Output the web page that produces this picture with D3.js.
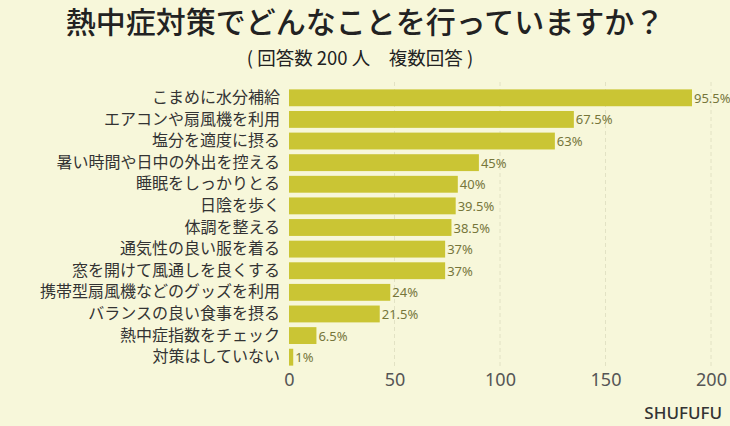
<!DOCTYPE html>
<html><head><meta charset="utf-8">
<script src="https://cdn.jsdelivr.net/npm/d3@7"></script>
<style>body{margin:0;background:#f7f7da;font-family:"Noto Sans CJK JP",sans-serif}</style>
</head><body>
<script>
const categories = ["こまめに水分補給","エアコンや扇風機を利用","塩分を適度に摂る","暑い時間や日中の外出を控える","睡眠をしっかりとる","日陰を歩く","体調を整える","通気性の良い服を着る","窓を開けて風通しを良くする","携帯型扇風機などのグッズを利用","バランスの良い食事を摂る","熱中症指数をチェック","対策はしていない"];
const percents = [95.5,67.5,63,45,40,39.5,38.5,37,37,24,21.5,6.5,1];
const total = 200;
const xTicks = [0,50,100,150,200];

const W = 730, H = 426;
const svg = d3.select("body").append("svg").attr("width", W).attr("height", H);
svg.append("rect").attr("width", W).attr("height", H).attr("fill", "#f7f7da");

const x = d3.scaleLinear().domain([0, 200]).range([289, 711]);
const y = d3.scaleBand().domain(categories).range([87, 368]).paddingInner(0.22).paddingOuter(0.11);

svg.append("text").attr("x", 365).attr("y", 33).attr("text-anchor", "middle")
  .attr("font-size", 30).attr("font-weight", 500).attr("fill", "#222").text("熱中症対策でどんなことを行っていますか？");
svg.append("text").attr("x", 360).attr("y", 65).attr("text-anchor", "middle")
  .attr("font-size", 18.5).attr("fill", "#222").attr("xml:space", "preserve")
  .text("( 回答数 200 人　複数回答 )");

// grid
svg.append("g").selectAll("line").data(xTicks.slice(1)).join("line")
  .attr("x1", d => x(d)).attr("x2", d => x(d)).attr("y1", 82).attr("y2", 368)
  .attr("stroke", "#e2e2c4").attr("stroke-dasharray", "4,3");

const xAxis = svg.append("g").attr("transform", "translate(0,368)")
  .call(d3.axisBottom(x).tickValues(xTicks).tickSize(0).tickPadding(5));
xAxis.select(".domain").remove();
xAxis.selectAll("text").attr("font-size", 18).attr("fill", "#555").attr("font-family", "Noto Sans");

const yAxis = svg.append("g").attr("transform", "translate(283,0)")
  .call(d3.axisLeft(y).tickSize(0).tickPadding(3));
yAxis.select(".domain").remove();
yAxis.selectAll("text").attr("font-size", 16).attr("fill", "#333").attr("font-family", "Noto Sans CJK JP");

const rows = categories.map((c, i) => ({c, p: percents[i], n: percents[i] * total / 100}));
svg.append("g").selectAll("rect").data(rows).join("rect")
  .attr("x", x(0)).attr("y", d => y(d.c)).attr("height", y.bandwidth())
  .attr("width", d => x(d.n) - x(0)).attr("fill", "#cac534");
svg.append("g").selectAll("text").data(rows).join("text")
  .attr("x", d => x(d.n) + 2).attr("y", d => y(d.c) + y.bandwidth() / 2 + 5)
  .attr("font-size", 13).attr("fill", "#76763a").attr("font-family", "Noto Sans")
  .text(d => d.p + "%");

svg.append("text").attr("x", 722).attr("y", 419).attr("text-anchor", "end")
  .attr("font-size", 17).attr("font-weight", 500).attr("font-family", "Noto Sans").attr("fill", "#333").text("SHUFUFU");
</script>
</body></html>
